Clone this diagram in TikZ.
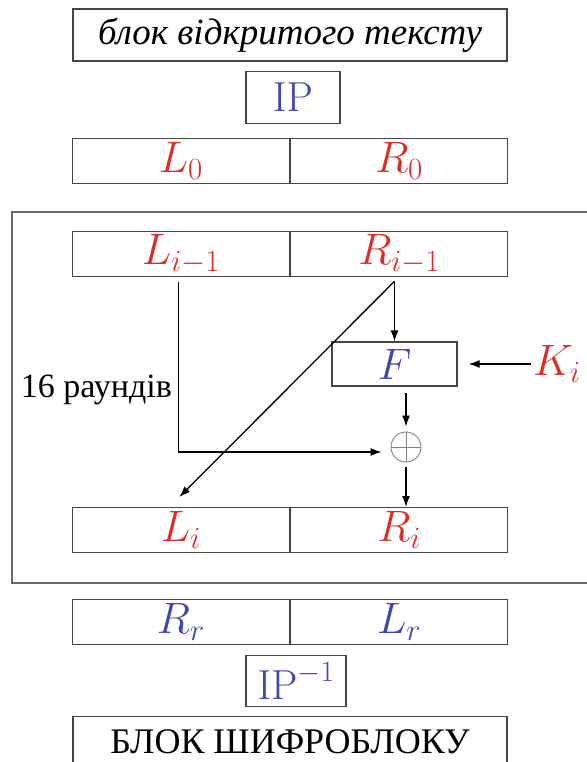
\RequirePackage{fix-cm}
\documentclass[tikz,border=0pt]{standalone}
\usepackage[no-math]{fontspec}
\setmainfont{Liberation Serif}
\newfontfamily\uaserif{Liberation Serif}
\usepackage{tikz}
\usetikzlibrary{arrows.meta,positioning,calc}

\definecolor{keyred}{RGB}{222,45,38}
\definecolor{ipblue}{RGB}{62,72,178}
\definecolor{boxline}{RGB}{70,70,70}
\definecolor{framegray}{RGB}{105,105,105}

\newcommand{\mathsize}{\fontsize{44}{50}\selectfont}
\newcommand{\ipsize}{\fontsize{42}{48}\selectfont}

\begin{document}
\begin{tikzpicture}[
  x=1pt, y=-1pt,
  >={Latex[length=11pt,width=8pt]},
  wide/.style={rectangle, draw=boxline, line width=1.3pt,
    minimum width=434pt, minimum height=52pt, inner sep=0pt},
  ipbox/.style={rectangle, draw=boxline, line width=1.3pt,
    minimum height=52pt, inner sep=0pt, text=ipblue, font=\ipsize},
  half/.style={rectangle, draw=boxline, line width=1.3pt,
    minimum width=217pt, minimum height=45pt, inner sep=0pt, font=\mathsize},
  fnbox/.style={rectangle, draw=boxline, line width=1.3pt,
    minimum width=125pt, minimum height=44pt, inner sep=0pt,
    text=ipblue, font=\mathsize},
  xor/.style={circle, draw=gray, line width=0.9pt,
    minimum size=30pt, inner sep=0pt},
  arr/.style={->, line width=1.3pt},
]
\useasboundingbox (0,0) rectangle (586,762);

% Input
\node[wide, font=\uaserif\fontsize{37}{42}\selectfont\itshape] (plain) at (290,35)
  {блок відкритого тексту};
\node[ipbox, minimum width=94pt, below=9pt of plain, xshift=3pt] (ip)
  {$\mathrm{IP}$};
\node[half, text=keyred, anchor=north east] (l0) at (290,138) {$L_0$};
\node[half, text=keyred, right=0pt of l0] (r0) {$R_0$};

% One round
\draw[draw=framegray, line width=1.6pt] (12,212) rectangle (640,583);

\node[half, text=keyred, anchor=north east] (lprev) at (290,231) {$L_{i-1}$};
\node[half, text=keyred, right=0pt of lprev] (rprev) {$R_{i-1}$};

\node[fnbox] (f) at (394.5,364) {$F$};
\node[anchor=west, text=keyred, font=\mathsize, inner sep=2pt] (k) at (531,364)
  {$K_i$};
\node[xor] (x) at (406,447) {};
\draw[gray, line width=0.9pt] (x.north) -- (x.south) (x.west) -- (x.east);

\node[anchor=east, font=\uaserif\fontsize{34}{40}\selectfont, inner sep=0pt] (rounds)
  at (172,390) {16 раундів};

\node[half, text=keyred, anchor=north east] (li) at (290,507) {$L_i$};
\node[half, text=keyred, right=0pt of li] (ri) {$R_i$};

\coordinate (split) at ($(rprev.south -| f.north)+(0,4)$);

% Arrows
\draw[arr] (split) -- (f.north);
\draw[arr] (split) -- ($(li.north)+(-1.5,-10)$);
\draw[arr] ($(lprev.south)+(-2.5,5)$) |- ($(x.west)+(-9,5)$);
\draw[arr] ($(f.south -| x.north)+(0,6)$) -- ($(x.north)+(0,-5)$);
\draw[arr] ($(x.south)+(0,5)$) -- (x |- ri.north);
\draw[arr] (k.west) -- ($(f.east)+(11,0)$);

% Output
\node[half, text=ipblue, anchor=north east] (rr) at (290,599) {$R_r$};
\node[half, text=ipblue, right=0pt of rr] (lr) {$L_r$};
\node[ipbox, minimum width=100pt, minimum height=51pt, anchor=north] (ipinv)
  at (296,655) {$\mathrm{IP}^{-1}$};
\node[wide, minimum height=50pt, anchor=north,
  font=\uaserif\fontsize{36}{40}\selectfont]
  (cipher) at (290,716) {БЛОК ШИФРОБЛОКУ};

\end{tikzpicture}
\end{document}
